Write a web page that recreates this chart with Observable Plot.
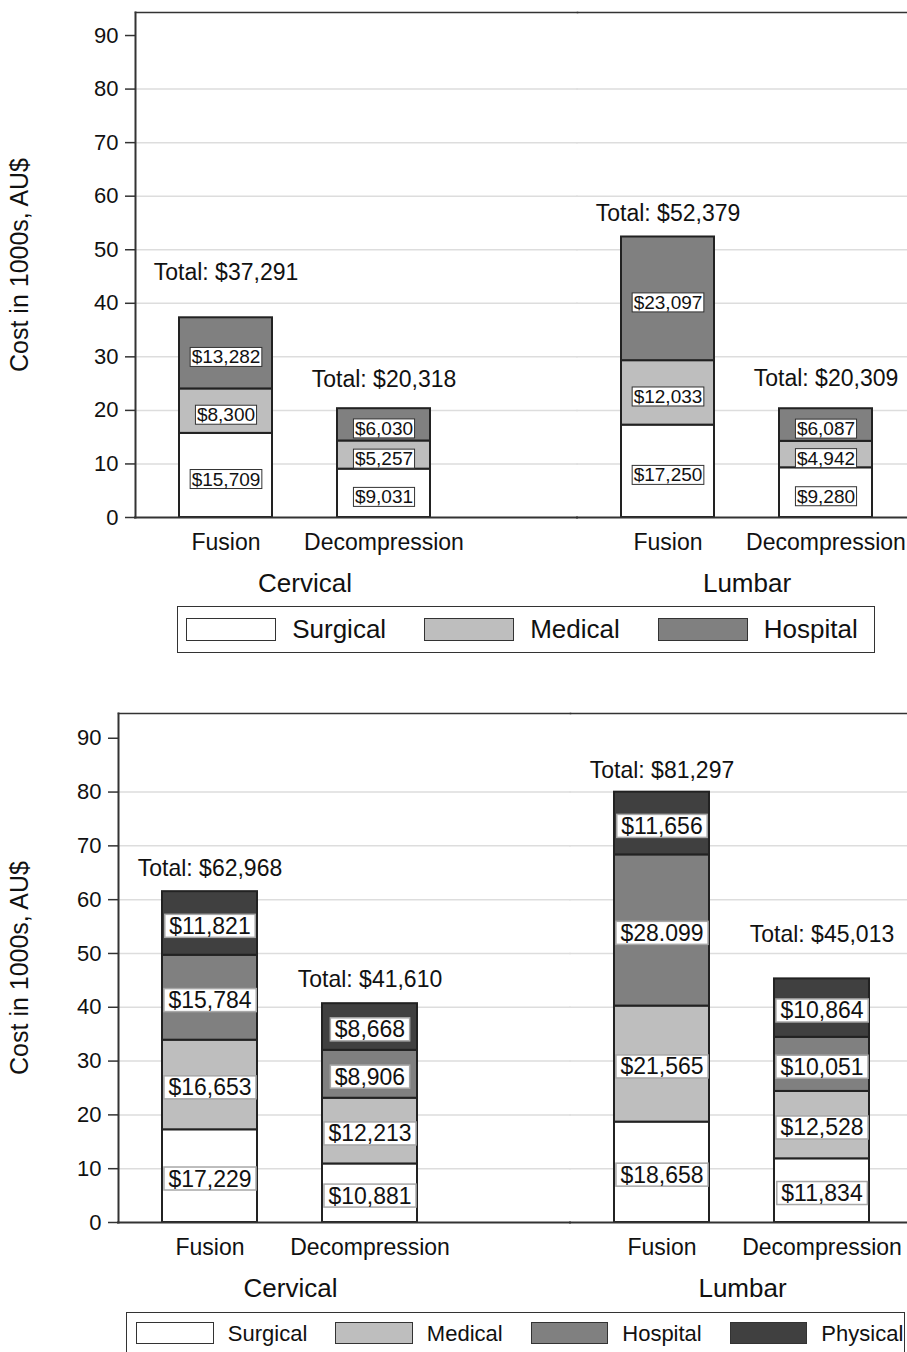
<!DOCTYPE html>
<html><head><meta charset="utf-8">
<script src="https://cdn.jsdelivr.net/npm/d3@7"></script>
<script src="https://cdn.jsdelivr.net/npm/@observablehq/plot@0.6"></script>
<style>
html,body{margin:0;padding:0;background:#fff;}
body{width:907px;height:1352px;overflow:hidden;position:relative;font-family:"Liberation Sans",Arial,sans-serif;color:#111;}
.chart{position:absolute;left:0;width:1100px;}
.chart svg{max-width:none !important;}
.legend{position:absolute;border:1.5px solid #333;box-sizing:border-box;display:flex;align-items:center;}
.legend .sw{box-sizing:border-box;border:1.5px solid #333;flex:none;}
.legend span{flex:none;white-space:nowrap;line-height:1;}
</style></head><body>
<div id="top" class="chart" style="top:0"></div>
<div id="bottom" class="chart" style="top:700px"></div>
<div id="legTop" class="legend"></div>
<div id="legBot" class="legend"></div>
<script>
// ---------------- data ----------------
const groups = ["Cervical", "Lumbar"];
const procedures = ["Fusion", "Decompression"];
const costParts = ["Surgical", "Medical", "Hospital", "Physical"];
const partColors = ["#ffffff", "#bebebe", "#808080", "#404040"];
const yTicks = [0, 10, 20, 30, 40, 50, 60, 70, 80, 90];
const gridTicks = [10, 20, 30, 40, 50, 60, 70, 80];
const yTitle = "Cost in 1000s, AU$";

// bar order: Cervical-Fusion, Cervical-Decompression, Lumbar-Fusion, Lumbar-Decompression (AU$)
const topSurgical = [15709, 9031, 17250, 9280];
const topMedical  = [8300, 5257, 12033, 4942];
const topHospital = [13282, 6030, 23097, 6087];
const topTotals   = [37291, 20318, 52379, 20309];

const botSurgical = [17229, 10881, 18658, 11834];
const botMedical  = [16653, 12213, 21565, 12528];
const botHospital = [15784, 8906, 28099, 10051];
const botPhysical = [11821, 8668, 11656, 10864];
const botTotals   = [62968, 41610, 81297, 45013];

// label printed as "$28.099" in the source figure
const labelOverrides = {"bottom|Lumbar|Fusion|Hospital": "$28.099"};

// ---------------- helpers ----------------
const bars = groups.flatMap(g => procedures.map(p => ({group: g, proc: p})));
const fmt = d3.format(",");

function buildRows(key, series, names) {
  const rows = [];
  bars.forEach((b, i) => names.forEach((name, k) => {
    const dollars = series[k][i];
    const id = `${key}|${b.group}|${b.proc}|${name}`;
    rows.push({group: b.group, proc: b.proc, part: name, value: dollars / 1000,
               label: labelOverrides[id] ?? ("$" + fmt(dollars))});
  }));
  return rows;
}
function buildTotals(series, totals) {
  return bars.map((b, i) => ({group: b.group, proc: b.proc,
    top: d3.sum(series, s => s[i]) / 1000, text: "Total: $" + fmt(totals[i])}));
}

function drawChart(el, key, rows, totals, names, L) {
  const width = L.marginLeft + 2 * L.facetW;
  const height = L.marginTop + L.plotHeight + L.marginBottom;
  const ink = "#111";
  const totalMarks = totals.map((t, i) => Plot.text([t], {
    fx: "group", x: "proc", y: "top", text: "text", fontSize: 23, dy: -L.lifts[i], fill: ink
  }));
  const chart = Plot.plot({
    width, height,
    marginLeft: L.marginLeft, marginRight: 0, marginTop: L.marginTop, marginBottom: L.marginBottom,
    style: {fontFamily: '"Liberation Sans", Arial, sans-serif', color: ink, background: "transparent", overflow: "visible", maxWidth: "none"},
    fx: {domain: groups, paddingInner: 0, paddingOuter: 0},
    x: {domain: procedures, paddingInner: L.xPI, paddingOuter: L.xPO, align: L.xAlign},
    y: {domain: [0, L.yMax]},
    color: {domain: names, range: partColors.slice(0, names.length)},
    marks: [
      Plot.gridY(gridTicks, {stroke: "#dddddd", strokeOpacity: 1, strokeWidth: 1.5, strokeLinecap: "square"}),
      Plot.barY(rows, {fx: "group", x: "proc", y: "value", fill: "part", stroke: "#222", strokeWidth: 2}),
      Plot.text(rows, Plot.stackY({fx: "group", x: "proc", y: "value", z: "part", text: "label",
        fontSize: L.labelFont, dy: L.labelDy, fill: ink})),
      ...totalMarks,
      Plot.frame({anchor: "top", stroke: "#333", strokeWidth: 1.5, strokeLinecap: "square"}),
      Plot.frame({anchor: "left", facetAnchor: "left", stroke: "#333", strokeWidth: 2}),
      Plot.ruleY([0], {stroke: "#333", strokeWidth: 2, strokeLinecap: "square"}),
      Plot.axisY(yTicks, {tickSize: 10, tickPadding: 7, fontSize: 22, stroke: "#333", strokeWidth: 1.5, label: null}),
      Plot.axisY([], {tickSize: 0, fontSize: 25, label: yTitle, labelAnchor: "center", labelArrow: "none",
        labelOffset: L.labelOffset}),
      Plot.axisX({tickSize: 0, tickPadding: 16, fontSize: 23, label: null}),
      Plot.axisFx({anchor: "bottom", tickSize: 0, tickPadding: 56, fontSize: 26, label: null, dx: L.groupDx})
    ]
  });
  chart.style.maxWidth = "none";
  chart.style.width = width + "px";
  chart.style.height = height + "px";
  el.appendChild(chart);
  // boxed value labels (texts that start with "$")
  chart.querySelectorAll("text").forEach(t => {
    if (!/^\$/.test(t.textContent)) return;
    const b = t.getBBox();
    const h = L.labelFont * L.boxH;
    const cy = b.y + b.height / 2;
    const r = document.createElementNS("http://www.w3.org/2000/svg", "rect");
    r.setAttribute("x", b.x - L.padX);
    r.setAttribute("y", cy - h / 2);
    r.setAttribute("width", b.width + 2 * L.padX);
    r.setAttribute("height", h);
    r.setAttribute("fill", "#fff");
    r.setAttribute("stroke", L.boxStroke);
    r.setAttribute("stroke-width", L.boxStrokeW);
    if (t.getAttribute("transform")) r.setAttribute("transform", t.getAttribute("transform"));
    t.parentNode.insertBefore(r, t);
  });
}

function drawLegend(el, names, S) {
  Object.assign(el.style, {left: S.left + "px", top: S.top + "px", width: S.width + "px", height: S.height + "px",
    paddingLeft: S.padL + "px", alignItems: S.align || "center"});
  names.forEach((n, i) => {
    const sw = document.createElement("div");
    sw.className = "sw";
    Object.assign(sw.style, {width: S.swW + "px", height: S.swH + "px", background: partColors[i],
      marginLeft: (i ? S.gap : 0) + "px", marginTop: (S.swTop || 0) + "px"});
    const tx = document.createElement("span");
    tx.textContent = n;
    Object.assign(tx.style, {fontSize: S.font + "px", marginLeft: S.swGap + "px", marginTop: (S.txTop || 0) + "px"});
    el.appendChild(sw); el.appendChild(tx);
  });
}

// ---------------- render ----------------
const topNames = costParts.slice(0, 3);
const topSeries = [topSurgical, topMedical, topHospital];
drawChart(document.getElementById("top"), "top", buildRows("top", topSeries, topNames),
  buildTotals(topSeries, topTotals), topNames,
  {marginLeft: 135, marginTop: 12, plotHeight: 505, marginBottom: 83, facetW: 442,
   xPI: 0.4114, xPO: 0.6044, xAlign: 0.2304, yMax: 94.3, groupDx: -51.5,
   labelFont: 19, labelDy: 4, boxH: 1.0, boxStroke: "#333", boxStrokeW: 1, padX: 1.5,
   lifts: [45, 29, 23, 30], labelOffset: 125});

const botSeries = [botSurgical, botMedical, botHospital, botPhysical];
drawChart(document.getElementById("bottom"), "bottom", buildRows("bottom", botSeries, costParts),
  buildTotals(botSeries, botTotals), costParts,
  {marginLeft: 118, marginTop: 13, plotHeight: 509, marginBottom: 80, facetW: 452.3,
   xPI: 0.404, xPO: 0.6066, xAlign: 0.224, yMax: 94.6, groupDx: -54,
   labelFont: 23, labelDy: 3, boxH: 1.0, boxStroke: "#a8a8a8", boxStrokeW: 1.5, padX: 4.5,
   lifts: [23, 24, 22, 44], labelOffset: 108});

drawLegend(document.getElementById("legTop"), topNames,
  {left: 177, top: 605.5, width: 698, height: 47.5, padL: 8.2, swW: 90, swH: 23, swGap: 16, gap: 38, font: 26});
drawLegend(document.getElementById("legBot"), costParts,
  {left: 126, top: 1311.7, width: 779, height: 70, padL: 9.2, swW: 77.6, swH: 22.3, swGap: 14, gap: 28, font: 22,
   align: "flex-start", swTop: 9.5, txTop: 10});
</script>
</body></html>
